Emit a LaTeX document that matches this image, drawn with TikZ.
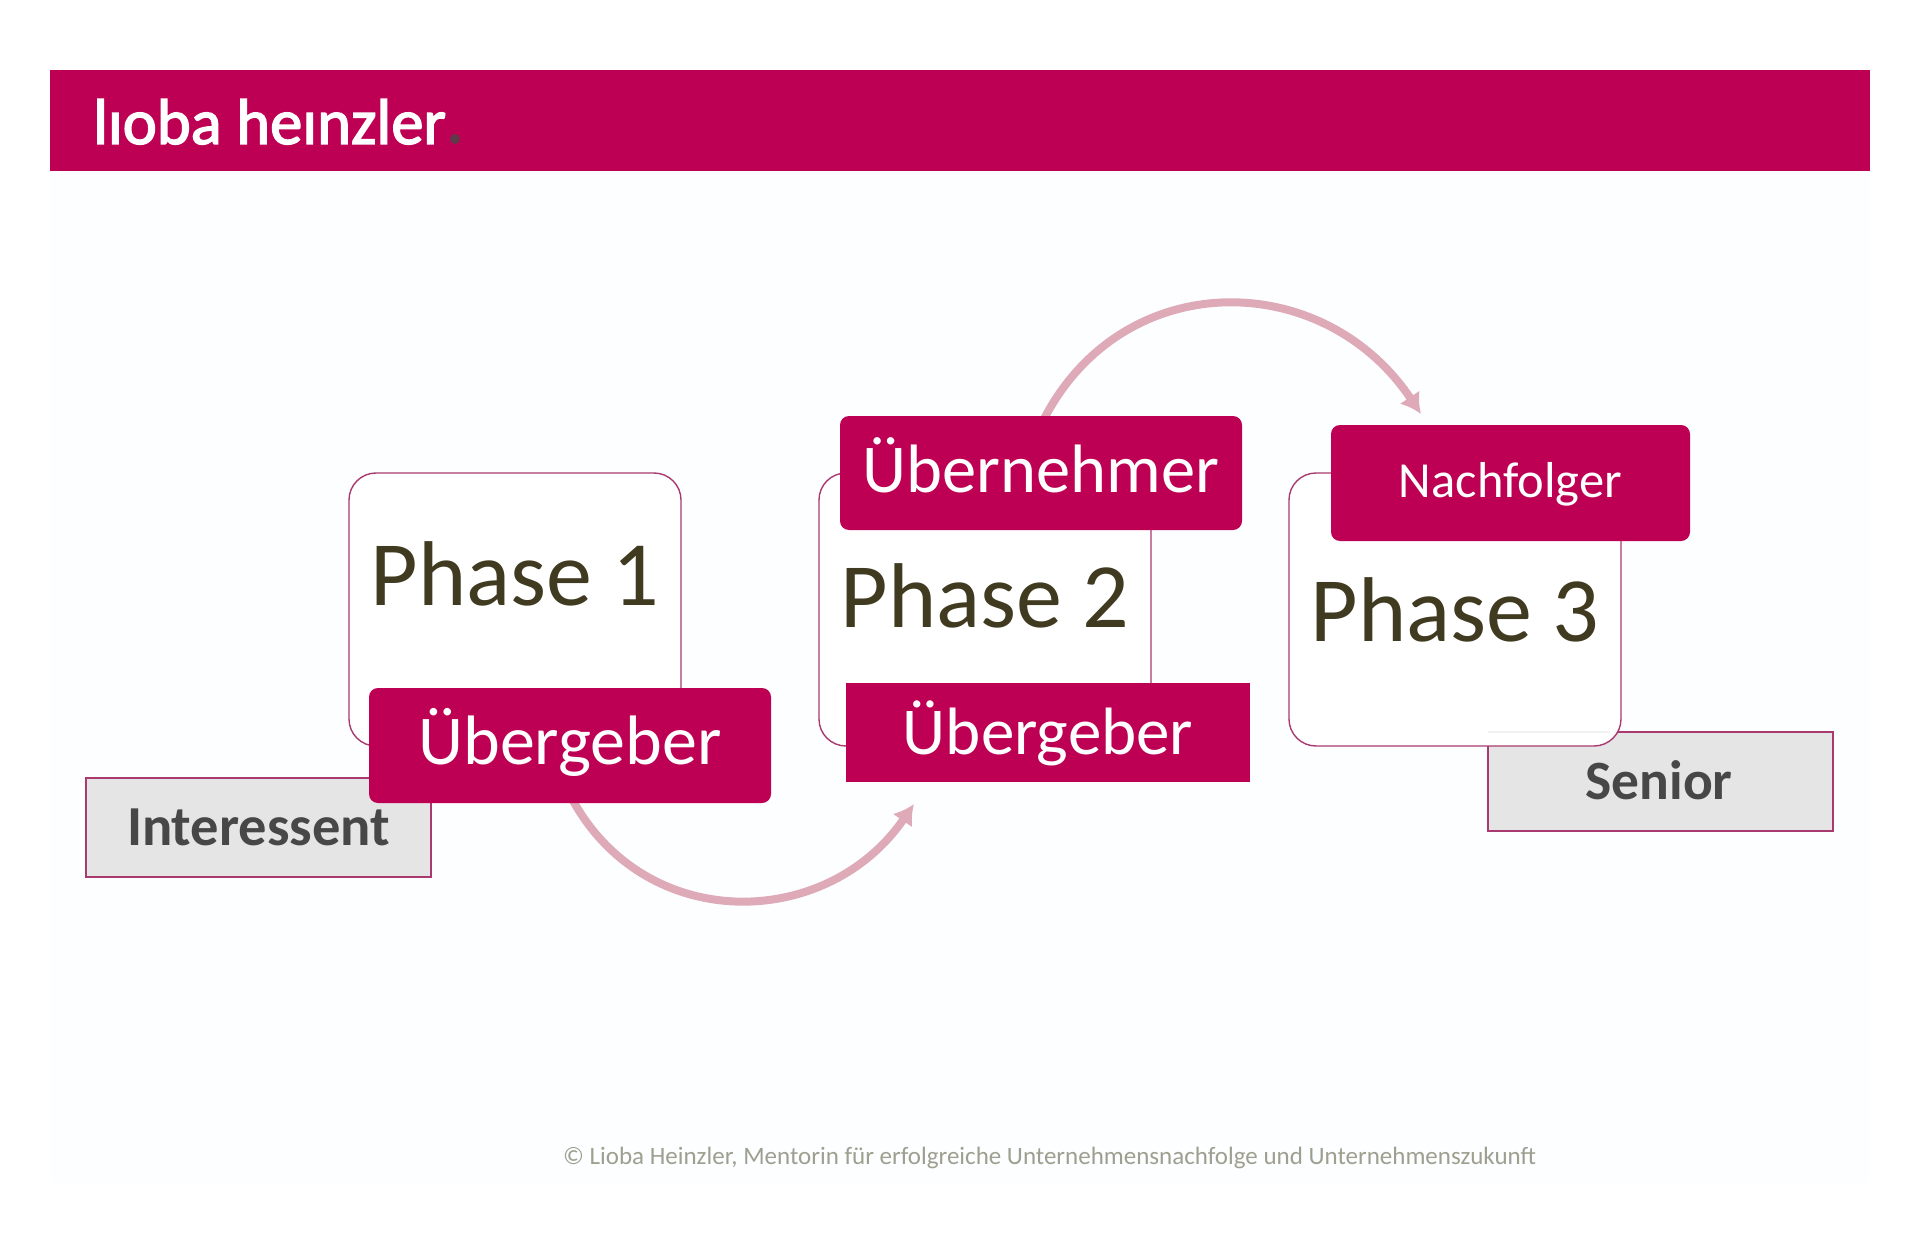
\documentclass[tikz,border=0pt]{standalone}
\usepackage{fontspec}
\setmainfont{Carlito}
\newfontfamily\logofont[FakeBold=2.2]{Carlito}
\usetikzlibrary{arrows.meta}
\pgfdeclarelayer{front}
\pgfsetlayers{main,front}
\definecolor{crim}{HTML}{BD0053}
\definecolor{edge}{HTML}{A83A70}
\definecolor{panel}{HTML}{FCFEFF}
\definecolor{olive}{HTML}{3F3A20}
\definecolor{arrowc}{HTML}{DFAAB7}
\definecolor{greyfill}{HTML}{E5E5E5}
\definecolor{greytxt}{HTML}{474747}
\definecolor{foot}{HTML}{9F9F90}
\tikzset{
  bx/.style={inner sep=0pt,outer sep=0pt,anchor=north west},
  phasebox/.style={bx,draw=edge,line width=1.4pt,fill=white,rounded corners=27pt,
     minimum width=332pt,minimum height=273pt,text=olive,font=\fontsize{92}{92}\selectfont},
  redbox/.style={bx,fill=crim,text=white},
  greybox/.style={bx,draw=edge,line width=1.6pt,fill=greyfill,text=greytxt,
     minimum width=345pt,minimum height=99pt,text height=35pt,text depth=0pt},
  flow/.style={draw=arrowc,line width=8pt,-{Latex[length=20pt,width=24pt]}},
}
\begin{document}
\begin{tikzpicture}[x=1pt,y=-1pt]
\useasboundingbox (0,0) rectangle (1920,1257);
\fill[white] (0,0) rectangle (1920,1257);
\node[bx,fill=panel,minimum width=1820pt,minimum height=1012pt] (panel) at (50,171) {};
\node[bx,fill=crim,minimum width=1820pt,minimum height=101pt] (banner) at (50,70) {};
\node[anchor=base west,inner sep=0pt,text=white] (logo) at (93,144)
  {\resizebox{353pt}{!}{\logofont\fontsize{60}{60}\selectfont lıoba heınzler}};
\node[circle,fill=greytxt!80!crim,inner sep=0pt,minimum size=10pt] (logodot) at (455,139) {};
% grey boxes
\node[greybox,font=\bfseries\fontsize{56.5}{56}\selectfont] (inter) at (86,778) {Interessent};
\node[greybox,font=\bfseries\fontsize{55.5}{56}\selectfont] (senior) at (1488,732) {\hspace*{-3pt}Senior};
% phases
\node[phasebox,text height=0pt,text depth=9pt] (ph1) at (349,473) {Phase 1};
\node[phasebox,text height=35pt,text depth=0pt] (ph2) at (819,473) {Phase 2};
\node[phasebox,text height=63pt,text depth=0pt] (ph3) at (1289,473) {Phase 3};
\draw[greyfill!55!white,line width=1.5pt] (senior.north west) -- ([xshift=122pt]senior.north west);
% red boxes, above the arrows
\begin{pgfonlayer}{front}
\node[redbox,rounded corners=9pt,minimum width=402pt,minimum height=115pt,
  font=\fontsize{70}{70}\selectfont,text height=37pt,text depth=0pt] (ug1) at (369,688) {Übergeber};
\node[redbox,minimum width=404pt,minimum height=99pt,
  font=\fontsize{67}{67}\selectfont,text height=44pt,text depth=0pt] (ug2) at (846,683) {Übergeber};
\node[redbox,rounded corners=9pt,minimum width=402pt,minimum height=114pt,
  font=\fontsize{68.5}{68}\selectfont,text height=38pt,text depth=0pt] (un) at (840,416) {Übernehmer};
\node[redbox,rounded corners=9pt,minimum width=359pt,minimum height=116pt,
  font=\fontsize{50.5}{50}\selectfont,text height=28pt,text depth=0pt] (nf) at (1331,425) {Nachfolger};
\end{pgfonlayer}
% arrows
\coordinate (a1end) at (914,804);
\coordinate (a2end) at (1421,414);
\draw[flow] ([yshift=8pt]ug1.south) .. controls (642,934) and (826,932) .. (a1end);
\draw[flow] ([yshift=-9pt]un.north) .. controls (1118,266) and (1322,266) .. (a2end);
% footer
\node[anchor=base west,inner sep=0pt,text=foot,font=\fontsize{25}{25}\selectfont] (foottxt) at (563,1164)
 {© Lioba Heinzler, Mentorin für erfolgreiche Unternehmensnachfolge und Unternehmenszukunft};
\end{tikzpicture}
\end{document}
